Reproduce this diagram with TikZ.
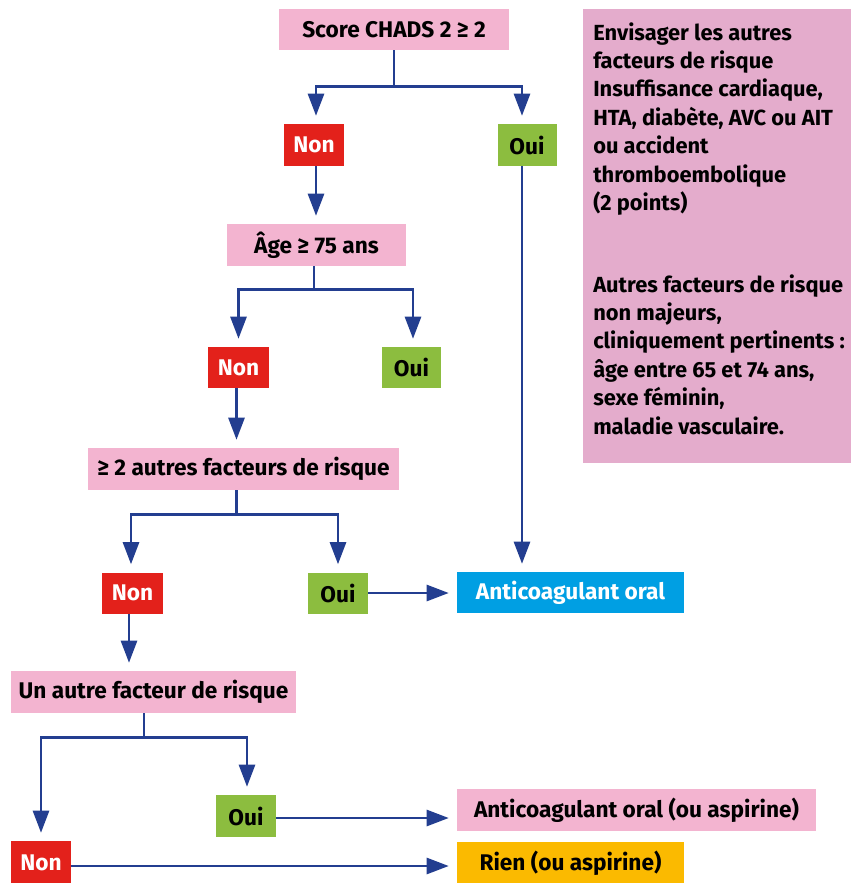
\documentclass[tikz,border=0pt]{standalone}
\usepackage{fontspec}
\setmainfont{Fira Sans}
\usetikzlibrary{arrows.meta,calc}

\definecolor{boxpink}{RGB}{243,180,208}
\definecolor{notepink}{RGB}{228,172,204}
\definecolor{nonred}{RGB}{227,33,27}
\definecolor{ouigreen}{RGB}{140,189,63}
\definecolor{oralblue}{RGB}{0,159,227}
\definecolor{nilorange}{RGB}{251,186,0}
\definecolor{linkblue}{RGB}{35,62,144}

\def\u{0.75pt}

\tikzset{
  lbl/.style={font=\bfseries\fontsize{17pt}{21.3pt}\selectfont, inner sep=0pt, align=center},
  notetext/.style={lbl, font=\bfseries\fontsize{16.4pt}{21.3pt}\selectfont, align=left},
  qbox/.style={lbl, fill=boxpink, text=black},
  nonbox/.style={lbl, fill=nonred, text=white, minimum width=60*\u, minimum height=42*\u},
  ouibox/.style={lbl, fill=ouigreen, text=black, minimum width=60*\u, minimum height=42*\u},
  conn/.style={draw=linkblue, line width=2.6*\u},
  arr/.style={conn, -{Triangle[length=22*\u, width=16*\u]}, shorten >=8*\u},
}

\begin{document}
\begin{tikzpicture}[x=\u, y=-\u]
\useasboundingbox (0,0) rectangle (851,883);

% side note
\node[fill=notepink, minimum width=268*\u, minimum height=454*\u, inner sep=0pt] (info) at (717,236) {};
\node[notetext, anchor=north west] (infotext) at (593,22)
  {Envisager les autres\\
   facteurs de risque\\
   Insuffisance cardiaque,\\
   HTA, diabète, AVC ou AIT\\
   ou accident\\
   thromboembolique\\
   (2 points)\\[40pt]
   Autres facteurs de risque\\
   non majeurs,\\
   cliniquement pertinents :\\
   âge entre 65 et 74 ans,\\
   sexe féminin,\\
   maladie vasculaire.};

% decision boxes
\node[qbox, minimum width=230*\u, minimum height=41*\u] (score) at (394,29.5) {Score CHADS 2 ≥ 2};
\node[nonbox] (non1) at (314,145) {Non};
\node[ouibox, minimum width=59*\u] (oui1) at (527,145) {Oui};

\node[qbox, minimum width=179*\u, minimum height=42*\u] (age) at (316.5,245) {Âge ≥ 75 ans};
\node[nonbox, minimum width=61*\u, minimum height=41*\u] (non2) at (238.5,367.5) {Non};
\node[ouibox, minimum width=59*\u, minimum height=41*\u] (oui2) at (411.5,367.5) {Oui};

\node[qbox, minimum width=311*\u, minimum height=42*\u] (autres) at (243.5,469) {≥ 2 autres facteurs de risque};
\node[nonbox, minimum width=61*\u, minimum height=41*\u] (non3) at (132.5,593) {Non};
\node[ouibox, minimum height=41*\u] (oui3) at (338,593) {Oui};
\node[lbl, fill=oralblue, text=white, minimum width=227*\u, minimum height=41*\u] (anti) at (570.5,592.5) {Anticoagulant oral};

\node[qbox, minimum width=285*\u, minimum height=42*\u] (unautre) at (153.5,692) {Un autre facteur de risque};
\node[ouibox] (oui4) at (246,816) {Oui};
\node[nonbox, minimum height=43*\u] (non4) at (41,862.5) {Non};
\node[qbox, minimum width=359*\u, minimum height=42*\u] (anti2) at (636.5,810) {Anticoagulant oral (ou aspirine)};
\node[lbl, fill=nilorange, text=black, minimum width=227*\u, minimum height=42*\u] (rien) at (570.5,863) {Rien (ou aspirine)};

% connectors
\draw[conn] (score.south) -- ++(0,36) coordinate (s1);
\draw[arr] (s1) -| ($(non1.north)+(2,0)$);
\draw[arr] (s1) -| ($(oui1.north)+(-5,0)$);
\draw[arr] ($(oui1.south)+(-5,0)$) coordinate (o1) -- (o1 |- anti.north);

\draw[arr] ($(non1.south)+(2,0)$) coordinate (n1) -- (n1 |- age.north);
\draw[conn] ($(age.south)+(-2.5,0)$) -- ++(0,23) coordinate (s2);
\draw[arr] (s2) -| (non2.north);
\draw[arr] (s2) -| ($(oui2.north)+(1.5,0)$);

\draw[arr] ($(non2.south)+(-2,0)$) coordinate (n2) -- (n2 |- autres.north);
\draw[conn] (n2 |- autres.south) -- ++(0,24) coordinate (s3);
\draw[arr] (s3) -| ($(non3.north)+(-1.5,0)$);
\draw[arr] (s3) -| (oui3.north);
\draw[arr] (oui3.east) -- (oui3.east -| anti.west);

\draw[arr] ($(non3.south)+(-3.5,0)$) coordinate (n3) -- (n3 |- unautre.north);
\draw[conn] ($(unautre.south)+(-9.5,0)$) -- ++(0,24) coordinate (s4);
\draw[arr] (s4) -| (non4.north);
\draw[arr] (s4) -| ($(oui4.north)+(1,0)$);
\draw[arr] ($(oui4.east)+(0,2)$) coordinate (o4) -- (o4 -| anti2.west);
\draw[arr] ($(non4.east)+(0,3.5)$) coordinate (n4) -- (n4 -| rien.west);
\end{tikzpicture}
\end{document}
